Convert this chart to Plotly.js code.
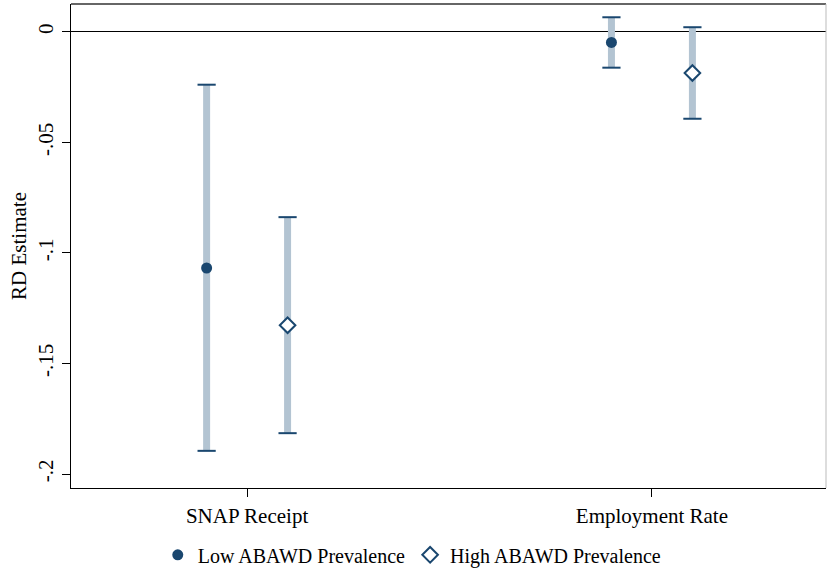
<!DOCTYPE html>
<html>
<head>
<meta charset="utf-8">
<script src="https://cdn.plot.ly/plotly-3.0.1.min.js"></script>
<style>html,body{margin:0;padding:0;background:#fff;}#chart{width:827px;height:575px;}</style>
</head>
<body>
<div id="chart"></div>
<script>
const categories = ["SNAP Receipt", "Employment Rate"];
const seriesNames = ["Low ABAWD Prevalence", "High ABAWD Prevalence"];
const lowEst = [-0.1068, -0.0048];
const lowCiLo = [-0.1895, -0.0162];
const lowCiHi = [-0.0239, 0.0066];
const highEst = [-0.1327, -0.0186];
const highCiLo = [-0.1815, -0.0393];
const highCiHi = [-0.0838, 0.0021];
const yTickVals = [0, -0.05, -0.1, -0.15, -0.2];
const yTickText = ["0", "-.05", "-.1", "-.15", "-.2"];

const navy = "#1a476f";
const barCol = "#b3c4d2";
const catPos = categories.map((c, i) => i + 1);
const off = 0.1;
const xLow = catPos.map(p => p - off);
const xHigh = catPos.map(p => p + off);

function ciTraces(xs, est, lo, hi) {
  return [
    {x: xs, y: est, type: "scatter", mode: "markers", showlegend: false, hoverinfo: "skip",
     marker: {size: 1, color: "rgba(0,0,0,0)"},
     error_y: {type: "data", symmetric: false,
       array: est.map((e, i) => hi[i] - e), arrayminus: est.map((e, i) => e - lo[i]),
       thickness: 7, width: 0, color: barCol}},
    {x: xs.concat(xs), y: lo.concat(hi), type: "scatter", mode: "markers", showlegend: false, hoverinfo: "skip",
     marker: {symbol: "line-ew", size: 13, color: navy, line: {color: navy, width: 2}}}
  ];
}

const traces = [].concat(
  ciTraces(xLow, lowEst, lowCiLo, lowCiHi),
  ciTraces(xHigh, highEst, highCiLo, highCiHi),
  [
    {x: xLow, y: lowEst, type: "scatter", mode: "markers", name: seriesNames[0],
     marker: {symbol: "circle", size: 11, color: navy, line: {width: 0}}},
    {x: xHigh, y: highEst, type: "scatter", mode: "markers", name: seriesNames[1],
     marker: {symbol: "diamond", size: 12, color: "#ffffff", line: {color: navy, width: 2}}}
  ]
);

const font = {family: "Liberation Serif, Times New Roman, serif", size: 21, color: "#000"};
const legFont = {family: "Liberation Serif, Times New Roman, serif", size: 20, color: "#000"};

const layout = {
  width: 827, height: 575,
  margin: {l: 71, r: 1, t: 4, b: 85},
  paper_bgcolor: "#fff", plot_bgcolor: "#fff",
  font: font,
  showlegend: true,
  legend: {orientation: "h", x: 0.452, xanchor: "center", y: -0.138, yanchor: "middle",
    font: legFont, itemwidth: 30, tracegroupgap: 0},
  xaxis: {range: [0.565, 2.43], tickvals: catPos, ticktext: categories, automargin: false,
    showgrid: false, zeroline: false, showline: true, linecolor: "#000", linewidth: 1.3,
    ticks: "outside", ticklen: 8, tickcolor: "#000", tickfont: font, ticklabelstandoff: 0,
    fixedrange: true},
  yaxis: {range: [-0.2063, 0.0126], tickvals: yTickVals, ticktext: yTickText, tickangle: -90,
    automargin: false,
    showgrid: false, zeroline: true, zerolinecolor: "#000", zerolinewidth: 1,
    showline: true, linecolor: "#000", linewidth: 1.3,
    ticks: "outside", ticklen: 8, tickcolor: "#000", tickfont: font,
    title: {text: "RD Estimate", font: font, standoff: 2}, fixedrange: true},
  shapes: [
    {type: "line", xref: "paper", yref: "paper", x0: 0, x1: 1, y0: 1, y1: 1, line: {color: "#333", width: 1.3}},
    {type: "line", xref: "paper", yref: "paper", x0: 1, x1: 1, y0: 0, y1: 1, line: {color: "#bbb", width: 1}}
  ]
};

Plotly.newPlot("chart", traces, layout, {displayModeBar: false, staticPlot: true});
</script>
</body>
</html>
